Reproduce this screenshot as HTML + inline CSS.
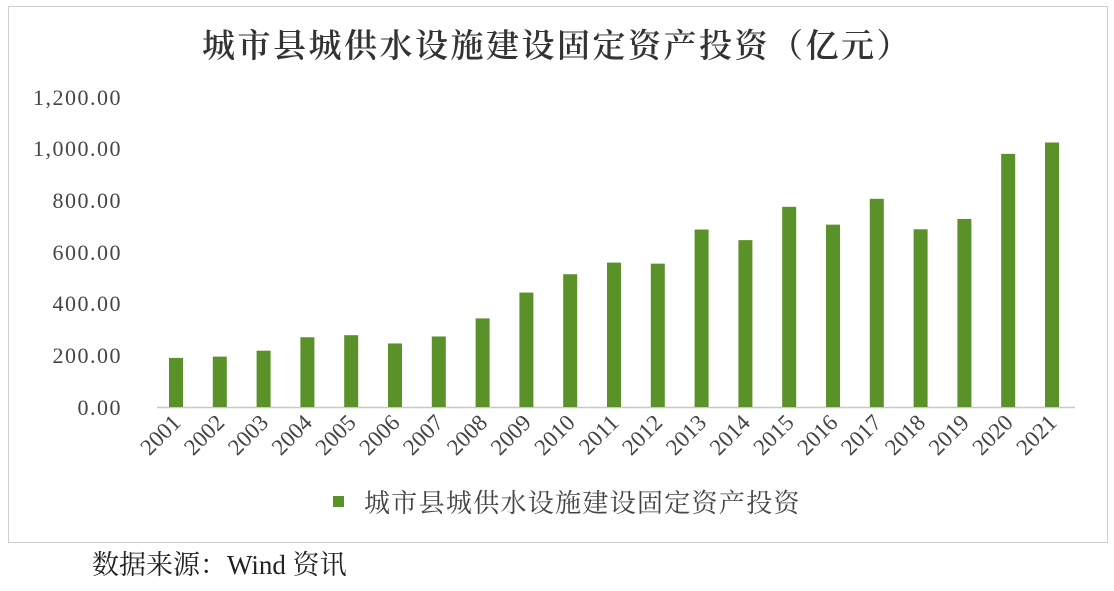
<!DOCTYPE html>
<html><head><meta charset="utf-8"><style>
body{margin:0;background:#fff;width:1114px;height:586px;overflow:hidden}
text{font-family:"Liberation Serif","Noto Serif CJK SC",serif}
</style></head><body>
<svg width="1114" height="586" xmlns="http://www.w3.org/2000/svg">
<rect x="0" y="0" width="1114" height="586" fill="#fff"/>
<rect x="8.5" y="6.5" width="1099" height="536" fill="#fff" stroke="#d0d0d0" stroke-width="1"/>
<text x="557" y="57" font-size="33" font-weight="600" text-anchor="middle" fill="#333" letter-spacing="2.5">城市县城供水设施建设固定资产投资（亿元）</text>
<g font-size="22" fill="#444" text-anchor="end" letter-spacing="1.5">
<text x="122" y="415">0.00</text>
<text x="122" y="363">200.00</text>
<text x="122" y="311">400.00</text>
<text x="122" y="260">600.00</text>
<text x="122" y="208">800.00</text>
<text x="122" y="156">1,000.00</text>
<text x="122" y="105">1,200.00</text>
</g>
<line x1="157" y1="407.5" x2="1075" y2="407.5" stroke="#c8c8c8" stroke-width="1.5"/>
<g id="bars" fill="#5a9128"></g>
<g id="labels" font-size="23" fill="#444"></g>
<rect x="333" y="496" width="11" height="11" fill="#5a9128"/>
<text x="364" y="512" font-size="26" fill="#444" letter-spacing="1.3" font-family="Liberation Sans,'Noto Sans CJK SC',sans-serif">城市县城供水设施建设固定资产投资</text>
<text x="92" y="574" font-size="27" fill="#222">数据来源：Wind 资讯</text>
<script>
var v=[190,195,218,270,278,246,273,343,443,514,559,555,687,646,775,706,806,688,728,980,1024];
var b=document.getElementById('bars'),l=document.getElementById('labels'),ns='http://www.w3.org/2000/svg';
v.forEach(function(d,i){var cx=176+i*43.8,h=d*0.2583;
var r=document.createElementNS(ns,'rect');r.setAttribute('x',cx-7);r.setAttribute('y',407-h);r.setAttribute('width',14);r.setAttribute('height',h);b.appendChild(r);
var t=document.createElementNS(ns,'text');t.setAttribute('transform','translate('+(cx+6)+',424) rotate(-45)');t.setAttribute('text-anchor','end');t.textContent=2001+i;l.appendChild(t);});
</script>
</svg>
</body></html>
